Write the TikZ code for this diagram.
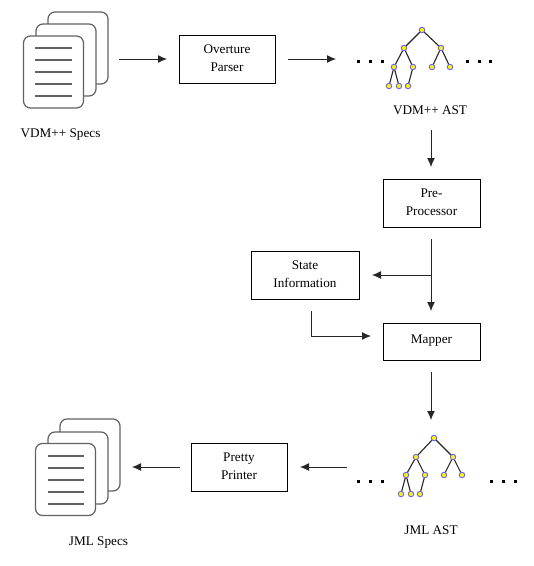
\documentclass[tikz,border=0pt]{standalone}
\usepackage{fontspec}
\setmainfont{Liberation Serif}
\usetikzlibrary{arrows.meta}
\newcommand{\twoln}[2]{\raisebox{3pt}{\begin{tabular}[c]{@{}c@{}}#1\\#2\end{tabular}}}
\tikzset{
  pagebox/.style={draw=black!62,line width=1.2pt,fill=white,rounded corners=7pt,minimum width=60pt,minimum height=72pt,inner sep=0pt},
  procbox/.style={draw=black,line width=0.8pt,fill=white,align=center,inner sep=0pt,font=\fontsize{13.2}{17.5}\selectfont},
  lbl/.style={inner sep=0pt,font=\fontsize{13.2}{15}\selectfont},
  conn/.style={draw=black!85,line width=1pt,-{Latex[length=9pt,width=8pt]}},
  txtline/.style={draw=black!62,line width=1.1pt},
  tn/.style={circle,draw=blue!60!white,fill=yellow,line width=0.9pt,minimum size=5.5pt,inner sep=0pt},
  te/.style={draw=black!85,line width=1.1pt},
  ell/.style={fill=black,minimum size=3pt,inner sep=0pt}
}
\begin{document}
\begin{tikzpicture}[x=1pt,y=-1pt]
\useasboundingbox[fill=white] (0,0) rectangle (534,566);
% VDM++ documents
\node[pagebox] (a3) at (78,48) {};
\node[pagebox] (a2) at (66,60) {};
\node[pagebox] (a1) at (53.5,72) {};
\foreach \i/\y in {1/48,2/60,3/72,4/84,5/96}{
  \coordinate (al\i) at (35,\y); \coordinate (ar\i) at (72,\y);
  \draw[txtline] (al\i) -- (ar\i);
}
\node[lbl] (atext) at (60.5,134.5) {VDM++ Specs};
% JML documents
\node[pagebox] (b3) at (90,455) {};
\node[pagebox] (b2) at (78,468) {};
\node[pagebox] (b1) at (65.5,479.5) {};
\foreach \i/\y in {1/456,2/468,3/480,4/492,5/504}{
  \coordinate (bl\i) at (48,\y); \coordinate (br\i) at (84,\y);
  \draw[txtline] (bl\i) -- (br\i);
}
\node[lbl] (btext) at (98.5,543) {JML Specs};
% Boxes
\node[procbox,minimum width=96pt,minimum height=48pt] (parser) at (227,59) {\twoln{Overture}{Parser}};
\node[procbox,minimum width=97pt,minimum height=48pt] (pre) at (431.5,203) {\twoln{Pre-}{Processor}};
\node[procbox,minimum width=108pt,minimum height=48pt] (state) at (305,275) {\twoln{State}{Information}};
\node[procbox,minimum width=97pt,minimum height=37pt] (mapper) at (431.5,341.5) {\raisebox{4pt}{Mapper}};
\node[procbox,minimum width=96pt,minimum height=48pt] (printer) at (239,467) {\twoln{Pretty}{Printer}};
% VDM tree
\foreach \p/\px/\py/\q/\qx/\qy in {r/422/30/l/404/48,r/422/30/m/441/48,l/404/48/la/394/67,l/404/48/lb/413/67,m/441/48/ma/432/67,m/441/48/mb/450/67,la/394/67/x/389/86,la/394/67/y/399/86,lb/413/67/z/408/86}{
  \coordinate (ae\p\q a) at (\px,\py); \coordinate (ae\p\q b) at (\qx,\qy);
  \draw[te] (ae\p\q a) -- (ae\p\q b);
}
\foreach \n/\x/\y in {r/422/30,l/404/48,m/441/48,la/394/67,lb/413/67,ma/432/67,mb/450/67,x/389/86,y/399/86,z/408/86}{
  \node[tn] (a\n) at (\x,\y) {};
}
\foreach \i/\x in {1/358,2/370,3/382,4/467,5/479,6/490}{\node[ell] (ad\i) at (\x,61) {};}
\node[lbl] (aast) at (430,110.5) {VDM++ AST};
% JML tree
\foreach \p/\px/\py/\q/\qx/\qy in {r/434/438/l/416/457,r/434/438/m/453/457,l/416/457/la/406/475,l/416/457/lb/425/475,m/453/457/ma/444/475,m/453/457/mb/462/475,la/406/475/x/401/494,la/406/475/y/411/494,lb/425/475/z/420/494}{
  \coordinate (ce\p\q a) at (\px,\py); \coordinate (ce\p\q b) at (\qx,\qy);
  \draw[te] (ce\p\q a) -- (ce\p\q b);
}
\foreach \n/\x/\y in {r/434/438,l/416/457,m/453/457,la/406/475,lb/425/475,ma/444/475,mb/462/475,x/401/494,y/411/494,z/420/494}{
  \node[tn] (c\n) at (\x,\y) {};
}
\foreach \i/\x in {1/358,2/370,3/382,4/491,5/503,6/515}{\node[ell] (cd\i) at (\x,481) {};}
\node[lbl] (cast) at (431,530.5) {JML AST};
% Connector anchors
\coordinate (p1) at (119,59); \coordinate (p1e) at (167,59);
\coordinate (p2) at (288,59); \coordinate (p2e) at (336,59);
\coordinate (p3) at (431,130); \coordinate (p3e) at (431,167);
\coordinate (p4) at (431,239); \coordinate (p4e) at (431,311);
\coordinate (p5) at (431,275); \coordinate (p5e) at (372,275);
\coordinate (p6) at (311,311); \coordinate (p6k) at (311,336); \coordinate (p6e) at (371,336);
\coordinate (p7) at (431,372); \coordinate (p7e) at (431,420);
\coordinate (p8) at (347,467); \coordinate (p8e) at (300,467);
\coordinate (p9) at (180,467); \coordinate (p9e) at (132,467);
\draw[conn] (p1) -- (p1e);
\draw[conn] (p2) -- (p2e);
\draw[conn] (p3) -- (p3e);
\draw[conn] (p4) -- (p4e);
\draw[conn] (p5) -- (p5e);
\draw[conn] (p6) -- (p6k) -- (p6e);
\draw[conn] (p7) -- (p7e);
\draw[conn] (p8) -- (p8e);
\draw[conn] (p9) -- (p9e);
\end{tikzpicture}
\end{document}
